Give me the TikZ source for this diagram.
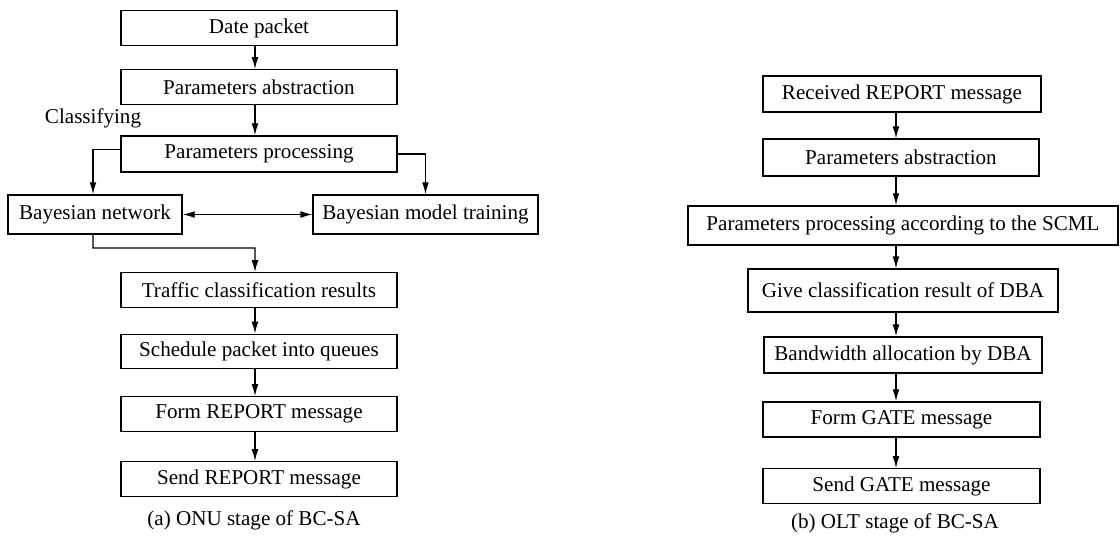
\documentclass[tikz,border=0pt]{standalone}
\usepackage{fontspec}
\setmainfont{Liberation Serif}
\usetikzlibrary{arrows.meta}

\begin{document}
\begin{tikzpicture}[
    x=0.025cm, y=-0.025cm,
    caja/.style   = {rectangle, draw=black, fill=white, line width=0.9pt,
                     align=center, font=\fontsize{15}{18}\selectfont,
                     minimum width=6.9cm, minimum height=0.86cm,
                     inner sep=2pt},
    texto/.style  = {font=\fontsize{15}{18}\selectfont, inner sep=1pt},
    flecha/.style = {-{Latex[length=3mm,width=1.7mm]}, draw=black,
                     line width=0.9pt},
    doble/.style  = {{Latex[length=3mm,width=1.7mm]}-{Latex[length=3mm,width=1.7mm]},
                     draw=black, line width=0.9pt},
  ]
  \useasboundingbox (0,0) rectangle (1120,535);

  %--- ejes de las flechas verticales
  \coordinate (ejeA) at (255,0);
  \coordinate (ejeB) at (896,0);

  %-------------------------------------------------- (a) ONU
  \node[caja] (dp) at (259,28)  {Date packet};
  \node[caja] (pa) at (259,87)  {Parameters abstraction};
  \node[caja, minimum height=0.9cm] (pp) at (259,154) {Parameters processing};
  \node[texto] (cl) at (93,118) {Classifying};

  \node[caja, minimum width=4.35cm, minimum height=0.98cm] (bn) at (95,214.5)
    {Bayesian network};
  \node[caja, minimum width=5.62cm, minimum height=0.98cm] (bm) at (425.5,214.5)
    {Bayesian model training};

  \node[caja] (tc) at (259,290)   {Traffic classification results};
  \node[caja] (sp) at (259,351.5) {Schedule packet into queues};
  \node[caja] (fr) at (259,414)   {Form REPORT message};
  \node[caja] (sr) at (259,479)   {Send REPORT message};
  \node[texto] (ca) at (254,520)  {(a) ONU stage of BC-SA};

  \coordinate (jn) at (93,248);

  \draw[flecha] (dp.south -| ejeA) -- (pa.north -| ejeA);
  \draw[flecha] (pa.south -| ejeA) -- (pp.north -| ejeA);
  \draw[flecha] ([yshift=0.12cm]pp.west) -| ([xshift=-0.05cm]bn.north);
  \draw[flecha] (pp.east) -| (bm.north);
  \draw[doble]  (bn.east) -- (bm.west);
  \draw[flecha] ([xshift=-0.05cm]bn.south) -- (jn) -| (tc.north -| ejeA);
  \draw[flecha] (tc.south -| ejeA) -- (sp.north -| ejeA);
  \draw[flecha] (sp.south -| ejeA) -- (fr.north -| ejeA);
  \draw[flecha] (fr.south -| ejeA) -- (sr.north -| ejeA);

  %-------------------------------------------------- (b) OLT
  \node[caja, minimum width=6.95cm, minimum height=0.9cm] (rr) at (902,94)
    {Received REPORT message};
  \node[caja, minimum height=0.92cm] (pb) at (901,157.5)
    {Parameters abstraction};
  \node[caja, minimum width=10.75cm, minimum height=0.98cm] (ps) at (903,225.5)
    {Parameters processing according to the SCML};
  \node[caja, minimum width=7.75cm, minimum height=1.07cm] (gc) at (903,290.5)
    {Give classification result of DBA};
  \node[caja, minimum width=6.95cm, minimum height=0.9cm] (ba) at (903,355)
    {Bandwidth allocation by DBA};
  \node[caja, minimum width=6.92cm, minimum height=0.88cm] (fg) at (901.5,419.5)
    {Form GATE message};
  \node[caja, minimum width=6.92cm] (sg) at (901.5,486)
    {Send GATE message};
  \node[texto] (cb) at (895,523) {(b) OLT stage of BC-SA};

  \draw[flecha] (rr.south -| ejeB) -- (pb.north -| ejeB);
  \draw[flecha] (pb.south -| ejeB) -- (ps.north -| ejeB);
  \draw[flecha] (ps.south -| ejeB) -- (gc.north -| ejeB);
  \draw[flecha] (gc.south -| ejeB) -- (ba.north -| ejeB);
  \draw[flecha] (ba.south -| ejeB) -- (fg.north -| ejeB);
  \draw[flecha] (fg.south -| ejeB) -- (sg.north -| ejeB);
\end{tikzpicture}
\end{document}
